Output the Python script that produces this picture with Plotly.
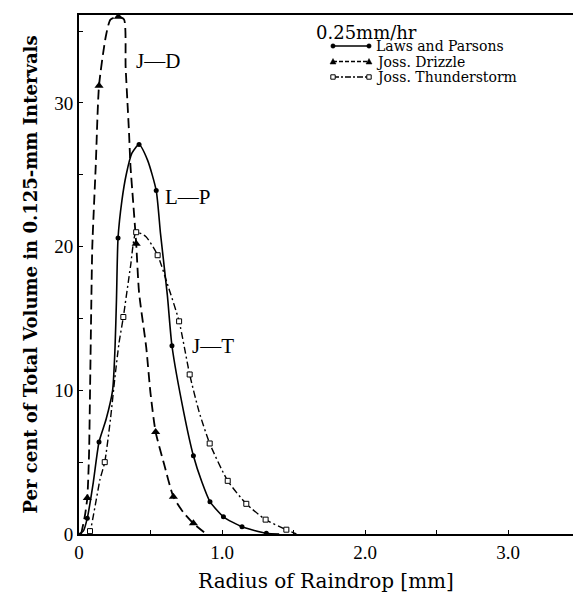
import plotly.graph_objects as go

# ---------------- data ----------------
# Laws and Parsons (L-P): curve trace + plotted points
lp_curve_r = [0.0, 0.03, 0.058, 0.10, 0.14, 0.19, 0.235, 0.252, 0.262, 0.273, 0.30, 0.33,
              0.37, 0.42, 0.48, 0.54, 0.57, 0.618, 0.65, 0.734, 0.80, 0.86, 0.916, 1.01,
              1.14, 1.31, 1.40]
lp_curve_v = [0.0, 0.2, 1.1, 3.6, 6.4, 8.0, 10.0, 13.0, 16.3, 20.6, 23.2, 25.0,
              26.5, 27.1, 26.0, 23.9, 20.9, 16.6, 13.1, 8.4, 5.45, 3.6, 2.25, 1.2,
              0.5, 0.05, 0.0]
lp_pts_r = [0.058, 0.14, 0.273, 0.42, 0.54, 0.65, 0.80, 0.916, 1.01, 1.14, 1.31]
lp_pts_v = [1.1, 6.4, 20.6, 27.1, 23.9, 13.1, 5.45, 2.25, 1.2, 0.5, 0.05]

# Joss. Drizzle (J-D)
jd_curve_r = [0.015, 0.04, 0.058, 0.07, 0.077, 0.086, 0.093, 0.117, 0.14, 0.187, 0.22,
              0.275, 0.315, 0.326, 0.338, 0.35, 0.36, 0.378, 0.40, 0.42, 0.47, 0.50,
              0.536, 0.594, 0.66, 0.73, 0.80, 0.89]
jd_curve_v = [0.0, 1.2, 2.5, 5.5, 9.8, 16.0, 20.0, 25.6, 31.2, 34.6, 35.8,
              36.0, 35.8, 32.5, 30.2, 27.9, 25.6, 23.2, 20.2, 16.8, 13.0, 9.8,
              7.1, 4.9, 2.6, 1.5, 0.74, 0.0]
jd_pts_r = [0.058, 0.14, 0.275, 0.40, 0.536, 0.66, 0.80]
jd_pts_v = [2.5, 31.2, 36.0, 20.2, 7.1, 2.6, 0.74]

# Joss. Thunderstorm (J-T)
jt_curve_r = [0.06, 0.077, 0.11, 0.147, 0.18, 0.22, 0.25, 0.28, 0.31, 0.36, 0.40, 0.467,
              0.55, 0.618, 0.70, 0.774, 0.84, 0.914, 1.04, 1.17, 1.305, 1.45, 1.52]
jt_curve_v = [0.0, 0.2, 1.8, 3.8, 5.0, 8.0, 10.8, 13.3, 15.1, 18.6, 21.0, 20.7,
              19.4, 17.4, 14.8, 11.1, 8.5, 6.3, 3.7, 2.1, 1.0, 0.3, 0.0]
jt_pts_r = [0.077, 0.18, 0.31, 0.40, 0.55, 0.70, 0.774, 0.914, 1.04, 1.17, 1.305, 1.45]
jt_pts_v = [0.2, 5.0, 15.1, 21.0, 19.4, 14.8, 11.1, 6.3, 3.7, 2.1, 1.0, 0.3]

x_tickvals = [0, 1, 2, 3]
x_ticktext = ["0", "1.0", "2.0", "3.0"]
y_tickvals = [0, 10, 20, 30]
y_ticktext = ["0", "10", "20", "30"]

series_names = ["Laws and Parsons", "Joss. Drizzle", "Joss. Thunderstorm"]
curve_labels = ["J\u2014D", "L\u2014P", "J\u2014T"]
curve_label_pos = [(0.55, 32.9), (0.76, 23.45), (0.94, 13.05)]
heading = "0.25mm/hr"

# ---------------- layout constants ----------------
W, H = 573, 596
L, R, T, B = 79, 0, 15, 62
PW, PH = W - L - R, H - T - B
X_PER_UNIT = 143.0
Y_PER_UNIT = 14.37
x_range = [0, PW / X_PER_UNIT]
y_range = [0, PH / Y_PER_UNIT]

SERIF = "DejaVu Serif"
TSERIF = "Liberation Serif"

def px(xpix):
    return (xpix - L) / PW

def py(ypix):
    return (H - B - ypix) / PH

fig = go.Figure()

line_w = 1.6
# curves
fig.add_trace(go.Scatter(x=lp_curve_r, y=lp_curve_v, mode="lines",
                         line=dict(color="black", width=line_w, shape="spline", smoothing=0.6),
                         showlegend=False, hoverinfo="skip"))
fig.add_trace(go.Scatter(x=jd_curve_r, y=jd_curve_v, mode="lines",
                         line=dict(color="black", width=line_w + 0.2, dash="10px,5px",
                                   shape="spline", smoothing=0.6),
                         showlegend=False, hoverinfo="skip"))
fig.add_trace(go.Scatter(x=jt_curve_r, y=jt_curve_v, mode="lines",
                         line=dict(color="black", width=line_w - 0.2, dash="7px,3px,2px,3px",
                                   shape="spline", smoothing=0.6),
                         showlegend=False, hoverinfo="skip"))
# points
fig.add_trace(go.Scatter(x=lp_pts_r, y=lp_pts_v, mode="markers", name=series_names[0],
                         marker=dict(symbol="circle", size=5, color="black"),
                         cliponaxis=False, showlegend=False))
fig.add_trace(go.Scatter(x=jd_pts_r, y=jd_pts_v, mode="markers", name=series_names[1],
                         marker=dict(symbol="triangle-up", size=8, color="black"),
                         cliponaxis=False, showlegend=False))
fig.add_trace(go.Scatter(x=jt_pts_r, y=jt_pts_v, mode="markers", name=series_names[2],
                         marker=dict(symbol="square", size=5, color="white",
                                     line=dict(color="black", width=1)),
                         cliponaxis=False, showlegend=False))

# curve labels
annotations = []
for txt, (xv, yv) in zip(curve_labels, curve_label_pos):
    annotations.append(dict(x=xv, y=yv, xref="x", yref="y", text=txt, showarrow=False,
                            font=dict(family=TSERIF, size=21, color="black")))

# heading
annotations.append(dict(x=px(314), y=py(33), xref="paper", yref="paper", text=heading,
                        showarrow=False, xanchor="left", yanchor="middle",
                        font=dict(family=SERIF, size=18, color="black")))

# manual legend
rows_y = [46, 61.5, 77]
key_x0, key_x1, text_x = 333, 369, 375
dashes = ["solid", "4px,2px", "6px,2px,2px,2px"]
shapes = []
for i, name in enumerate(series_names):
    yy = py(rows_y[i])
    shapes.append(dict(type="line", xref="paper", yref="paper", x0=px(key_x0), x1=px(key_x1),
                       y0=yy, y1=yy, line=dict(color="black", width=1.3, dash=dashes[i])))
    for kx in (key_x0, key_x1):
        common = dict(xref="paper", yref="paper", xsizemode="pixel", ysizemode="pixel",
                      xanchor=px(kx), yanchor=yy)
        if i == 0:
            shapes.append(dict(type="circle", x0=-2.2, x1=2.2, y0=-2.2, y1=2.2,
                               fillcolor="black", line=dict(color="black", width=0.5), **common))
        elif i == 1:
            shapes.append(dict(type="path", path="M -3 -2.5 L 3 -2.5 L 0 3 Z",
                               fillcolor="black", line=dict(color="black", width=0.5), **common))
        else:
            shapes.append(dict(type="rect", x0=-2.2, x1=2.2, y0=-2.2, y1=2.2,
                               fillcolor="white", line=dict(color="black", width=1), **common))
    annotations.append(dict(x=px(text_x), y=yy, xref="paper", yref="paper", text=name,
                            showarrow=False, xanchor="left", yanchor="middle", borderpad=0,
                            font=dict(family=SERIF, size=14, color="black")))

fig.update_layout(
    width=W, height=H,
    margin=dict(l=L, r=R, t=T, b=B, pad=0),
    paper_bgcolor="white", plot_bgcolor="white",
    showlegend=False,
    shapes=shapes, annotations=annotations,
    xaxis=dict(range=x_range, tickvals=x_tickvals, ticktext=x_ticktext,
               showgrid=False, zeroline=False, showline=True, linecolor="black",
               linewidth=2, mirror=True, ticks="inside", ticklen=4, tickwidth=1.2,
               tickcolor="black",
               minor=dict(dtick=0.5, ticks="inside", ticklen=4, tickwidth=1.2,
                          tickcolor="black", showgrid=False),
               tickfont=dict(family=TSERIF, size=19, color="black"),
               title=dict(text="Radius of Raindrop [mm]", standoff=12,
                          font=dict(family=SERIF, size=20, color="black"))),
    yaxis=dict(range=y_range, tickvals=y_tickvals, ticktext=y_ticktext,
               showgrid=False, zeroline=False, showline=True, linecolor="black",
               linewidth=2, ticks="inside", ticklen=4, tickwidth=1.2, tickcolor="black",
               minor=dict(dtick=5, ticks="inside", ticklen=4, tickwidth=1.2,
                          tickcolor="black", showgrid=False),
               tickfont=dict(family=TSERIF, size=19, color="black"),
               title=dict(text="<b>Per cent of Total Volume in 0.125-mm Intervals</b>",
                          standoff=12,
                          font=dict(family=SERIF, size=18, color="black"))),
)

fig.write_html("out.html")
